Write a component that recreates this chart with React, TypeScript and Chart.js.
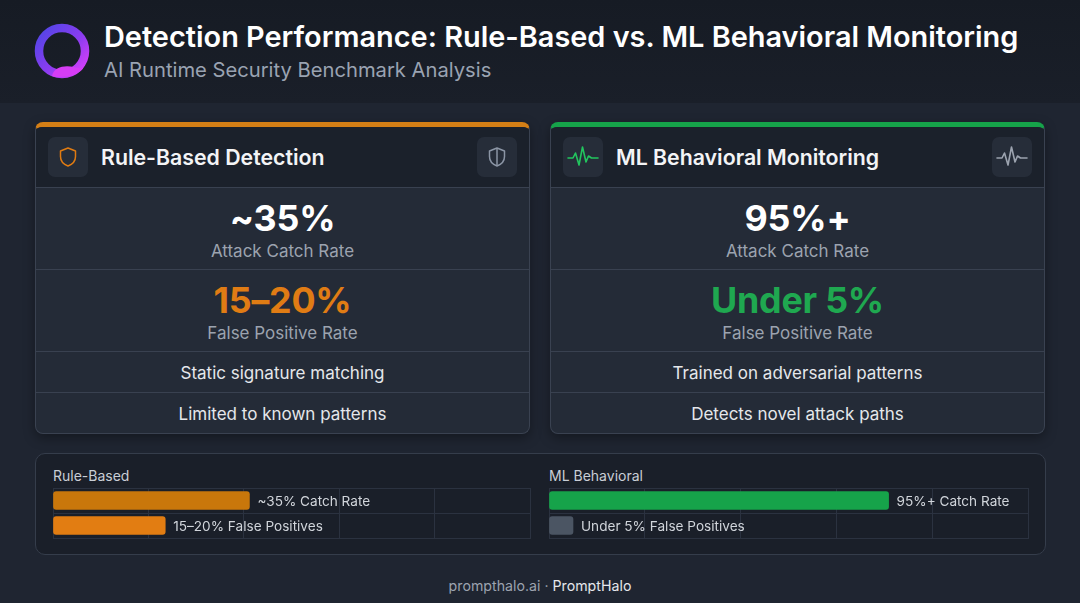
import React, { useEffect, useRef } from "react";
import { Chart, registerables } from "chart.js";

Chart.register(...registerables);

// ---- data ----
const ruleCategories = ["Catch Rate", "False Positives"];
const ruleValues = [35, 20];
const ruleLabels = ["~35% Catch Rate", "15–20% False Positives"];
const ruleColors = ["#c9770b", "#e27d12"];

const mlCategories = ["Catch Rate", "False Positives"];
const mlValues = [95, 5];
const mlLabels = ["95%+ Catch Rate", "Under 5% False Positives"];
const mlColors = ["#16a34a", "#4b5563"];

const ruleAxisMax = 85;
const mlAxisMax = 134;

const FONT = "Inter, 'Noto Sans', sans-serif";

const labelPlugin = (labels: string[]) => ({
  id: "barLabels",
  afterDatasetsDraw(chart: any) {
    const ctx = chart.ctx;
    const meta = chart.getDatasetMeta(0);
    ctx.save();
    ctx.font = `400 13.6px ${FONT}`;
    ctx.fillStyle = "#d1d5db";
    ctx.textBaseline = "middle";
    ctx.textAlign = "left";
    meta.data.forEach((bar: any, i: number) => {
      ctx.fillText(labels[i], bar.x + 8, bar.y + 1);
    });
    ctx.restore();
  },
});

function MiniBar(props: {
  categories: string[];
  values: number[];
  labels: string[];
  colors: string[];
  max: number;
  style: React.CSSProperties;
}) {
  const ref = useRef<HTMLCanvasElement>(null);
  useEffect(() => {
    if (!ref.current) return;
    const chart = new Chart(ref.current, {
      type: "bar",
      data: {
        labels: props.categories,
        datasets: [
          {
            data: props.values,
            backgroundColor: props.colors,
            borderRadius: 3,
            borderSkipped: false,
            barThickness: 18,
            minBarLength: 24,
          },
        ],
      },
      options: {
        indexAxis: "y",
        animation: false,
        responsive: true,
        maintainAspectRatio: false,
        layout: { padding: 2 },
        plugins: { legend: { display: false }, tooltip: { enabled: false } },
        scales: {
          x: {
            min: 0,
            max: props.max,
            ticks: { display: false, count: 6 },
            grid: { color: "#2b3240", drawTicks: false, lineWidth: 1 },
            border: { display: true, color: "#2b3240" },
          },
          y: {
            ticks: { display: false },
            grid: { color: "#2b3240", drawTicks: false, lineWidth: 1 },
            border: { display: true, color: "#2b3240" },
          },
        },
      },
      plugins: [labelPlugin(props.labels)],
    });
    return () => chart.destroy();
  }, []);
  return (
    <div style={{ position: "absolute", ...props.style }}>
      <canvas ref={ref} />
    </div>
  );
}

const ShieldIcon = ({ color, divided }: { color: string; divided?: boolean }) => (
  <svg width="24" height="24" viewBox="0 0 24 24" fill="none" stroke={color} strokeWidth="1.5" strokeLinejoin="round">
    <path d="M12 3 L19.5 6 V11.5 C19.5 16 16.5 19.3 12 21 C7.5 19.3 4.5 16 4.5 11.5 V6 Z" />
    {divided ? <line x1="12" y1="3" x2="12" y2="21" /> : null}
  </svg>
);

const PulseIcon = ({ color }: { color: string }) => (
  <svg width="32" height="26" viewBox="0 0 32 26" fill="none" stroke={color} strokeWidth="1.6" strokeLinejoin="round" strokeLinecap="round">
    <polyline points="1,14 6,14 8.5,9 12,21 15.5,3 19,18 21.5,12 24.5,14 31,14" />
  </svg>
);

const IconBox = ({ children, left }: { children: React.ReactNode; left: number }) => (
  <div
    style={{
      position: "absolute",
      left,
      top: 10,
      width: 40,
      height: 40,
      borderRadius: 7,
      background: "#262d39",
      display: "flex",
      alignItems: "center",
      justifyContent: "center",
    }}
  >
    {children}
  </div>
);

function Card(props: {
  left: number;
  accent: string;
  title: string;
  iconL: React.ReactNode;
  iconR: React.ReactNode;
  big1: string;
  big2: string;
  big2Color: string;
  f1: string;
  f2: string;
}) {
  const rowBorder = "1px solid #394150";
  const bigStyle: React.CSSProperties = {
    fontSize: 35.8,
    fontWeight: 700,
    lineHeight: "40px",
    letterSpacing: "-0.2px",
  };
  const subStyle: React.CSSProperties = {
    fontSize: 17,
    lineHeight: "22px",
    color: "#9ca3af",
    marginTop: 2,
  };
  const metricRow = (big: string, color: string, sub: string): React.ReactNode => (
    <div
      style={{
        height: 82,
        borderTop: rowBorder,
        display: "flex",
        flexDirection: "column",
        alignItems: "center",
        paddingTop: 10,
        boxSizing: "border-box",
      }}
    >
      <div style={{ ...bigStyle, color }}>{big}</div>
      <div style={subStyle}>{sub}</div>
    </div>
  );
  const featRow = (t: string, h: number) => (
    <div
      style={{
        height: h,
        borderTop: rowBorder,
        display: "flex",
        alignItems: "center",
        justifyContent: "center",
        fontSize: 17,
        color: "#e5e7eb",
        paddingTop: 2,
        boxSizing: "border-box",
      }}
    >
      {t}
    </div>
  );
  return (
    <div
      style={{
        position: "absolute",
        left: props.left,
        top: 122,
        width: 495,
        height: 312,
        borderRadius: 8,
        background: "#242b37",
        border: "1px solid #3a4251",
        borderTop: `5px solid ${props.accent}`,
        boxSizing: "border-box",
        overflow: "hidden",
        boxShadow: "0 4px 12px rgba(0,0,0,0.35)",
      }}
    >
      <div style={{ position: "relative", height: 60, background: "#1b212b" }}>
        <IconBox left={12}>{props.iconL}</IconBox>
        <div
          style={{
            position: "absolute",
            left: 65,
            top: 0,
            height: 60,
            lineHeight: "60px",
            fontSize: 21.3,
            fontWeight: 600,
            color: "#f3f4f6",
          }}
        >
          {props.title}
        </div>
        <IconBox left={441}>{props.iconR}</IconBox>
      </div>
      {metricRow(props.big1, "#ffffff", "Attack Catch Rate")}
      {metricRow(props.big2, props.big2Color, "False Positive Rate")}
      {featRow(props.f1, 41)}
      {featRow(props.f2, 40)}
    </div>
  );
}

export default function App() {
  useEffect(() => {
    document.body.style.margin = "0";
  }, []);
  return (
    <div
      style={{
        position: "absolute",
        left: 0,
        top: 0,
        width: 1080,
        height: 603,
        overflow: "hidden",
        background: "#1f2531",
        fontFamily: FONT,
        color: "#fff",
      }}
    >
      {/* header band */}
      <div
        style={{
          position: "absolute",
          left: 0,
          top: 0,
          width: 1080,
          height: 103,
          background: "linear-gradient(180deg, #161b24 0%, #1a1f29 100%)",
        }}
      />
      <svg style={{ position: "absolute", left: 30, top: 20 }} width="66" height="66" viewBox="0 0 66 66">
        <defs>
          <linearGradient id="lg" x1="0" y1="0" x2="1" y2="1">
            <stop offset="0" stopColor="#4f46e5" />
            <stop offset="0.55" stopColor="#8b3cf0" />
            <stop offset="1" stopColor="#e040fb" />
          </linearGradient>
        </defs>
        <circle cx="32" cy="31" r="23" fill="none" stroke="url(#lg)" strokeWidth="8.5" />
        <path d="M22 56 C24 47 34 45 44 47 C48 48 52 49 54 47 C50 54 40 57 30 57 C26 57 23 57 22 56 Z" fill="#d63df5" />
      </svg>
      <div
        style={{
          position: "absolute",
          left: 104,
          top: 17,
          fontSize: 28.9,
          fontWeight: 600,
          lineHeight: "40px",
          color: "#ffffff",
          whiteSpace: "nowrap",
        }}
      >
        Detection Performance: Rule-Based vs. ML Behavioral Monitoring
      </div>
      <div
        style={{
          position: "absolute",
          left: 104,
          top: 57,
          fontSize: 20.2,
          lineHeight: "26px",
          color: "#9aa3b2",
          whiteSpace: "nowrap",
        }}
      >
        AI Runtime Security Benchmark Analysis
      </div>

      <Card
        left={35}
        accent="#d47f16"
        title="Rule-Based Detection"
        iconL={<ShieldIcon color="#e07b12" />}
        iconR={<ShieldIcon color="#8b95a5" divided />}
        big1="~35%"
        big2="15–20%"
        big2Color="#e07c14"
        f1="Static signature matching"
        f2="Limited to known patterns"
      />
      <Card
        left={550}
        accent="#16a34a"
        title="ML Behavioral Monitoring"
        iconL={<PulseIcon color="#22c55e" />}
        iconR={<PulseIcon color="#9ca3af" />}
        big1="95%+"
        big2="Under 5%"
        big2Color="#1fa850"
        f1="Trained on adversarial patterns"
        f2="Detects novel attack paths"
      />

      {/* bottom comparison card */}
      <div
        style={{
          position: "absolute",
          left: 35,
          top: 453,
          width: 1011,
          height: 102,
          borderRadius: 10,
          background: "#1a1f29",
          border: "1px solid #353d4b",
          boxSizing: "border-box",
        }}
      />
      <div style={{ position: "absolute", left: 53, top: 466, fontSize: 14, color: "#c9ced6", lineHeight: "20px" }}>
        Rule-Based
      </div>
      <div style={{ position: "absolute", left: 549, top: 466, fontSize: 14, color: "#c9ced6", lineHeight: "20px" }}>
        ML Behavioral
      </div>
      <MiniBar
        categories={ruleCategories}
        values={ruleValues}
        labels={ruleLabels}
        colors={ruleColors}
        max={ruleAxisMax}
        style={{ left: 51, top: 486, width: 481, height: 54 }}
      />
      <MiniBar
        categories={mlCategories}
        values={mlValues}
        labels={mlLabels}
        colors={mlColors}
        max={mlAxisMax}
        style={{ left: 547, top: 486, width: 483, height: 54 }}
      />

      <div
        style={{
          position: "absolute",
          left: 0,
          top: 576,
          width: 1080,
          textAlign: "center",
          fontSize: 14.2,
          lineHeight: "20px",
          whiteSpace: "nowrap",
        }}
      >
        <span style={{ color: "#9ca3af" }}>prompthalo.ai · </span>
        <span style={{ color: "#e5e7eb" }}>PromptHalo</span>
      </div>
    </div>
  );
}
